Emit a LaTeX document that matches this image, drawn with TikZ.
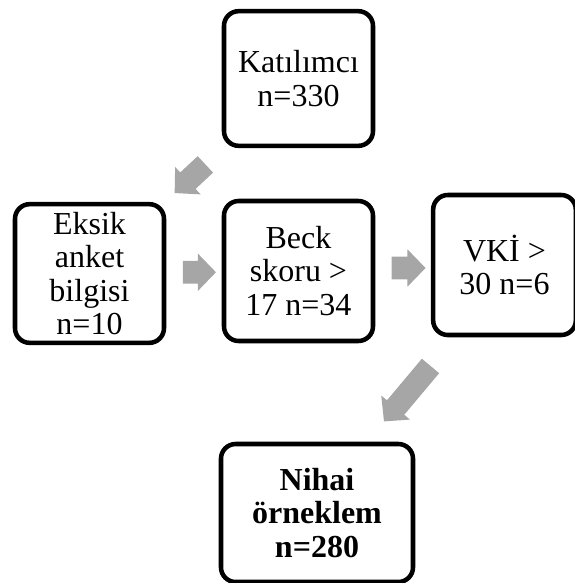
\documentclass[tikz,border=0pt]{standalone}
\usepackage{fontspec}
\setmainfont{Liberation Serif}
\usetikzlibrary{shapes.arrows, calc}
\definecolor{pfeilgrau}{RGB}{166,166,166}

\begin{document}
\begin{tikzpicture}[x=0.75pt, y=-0.75pt]
    \tikzset{
        kasten/.style={draw, line width=3.4pt, rounded corners=11pt, align=center, inner sep=0pt,
            font=\fontsize{24}{25}\selectfont},
        blockpfeil/.style={single arrow, fill=pfeilgrau, inner xsep=0pt, inner ysep=8.25pt,
            minimum width=27.75pt, single arrow head extend=5.6pt, single arrow tip angle=92}
    }
    \useasboundingbox (0,0) rectangle (575,583);

    % Kästen
    \node[kasten, minimum width=111.75pt, minimum height=101pt] (kat) at (298.5,78.5) {Katılımcı\\n=330};
    \node[kasten, minimum width=111.75pt, minimum height=104pt] (eksik) at (89.5,273.5) {Eksik\\anket\\bilgisi\\n=10};
    \node[kasten, minimum width=111.75pt, minimum height=105pt] (beck) at (298.5,271) {Beck\\skoru >\\17 n=34};
    \node[kasten, minimum width=107pt, minimum height=105pt] (vki) at (504.5,265) {VKİ >\\30 n=6};
    \node[kasten, minimum width=144pt, minimum height=103.5pt, font=\fontsize{24}{25}\selectfont\bfseries] (nihai) at (317,513) {Nihai\\örneklem\\n=280};

    % Pfeile
    \node[blockpfeil, minimum height=31.5pt, rotate=223] (p1) at ($(kat.south)!0.5!(eksik.north)$) {};
    \node[blockpfeil, minimum height=24.75pt] (p2) at ($(eksik.east)!0.5!(beck.west)$) {};
    \node[blockpfeil, minimum height=25.5pt] (p3) at ($(beck.east)!0.5!(vki.west)$) {};
    \node[blockpfeil, minimum height=54.3pt, rotate=230] (p4) at ($(vki.south)!0.5!(nihai.north)$) {};
\end{tikzpicture}
\end{document}
